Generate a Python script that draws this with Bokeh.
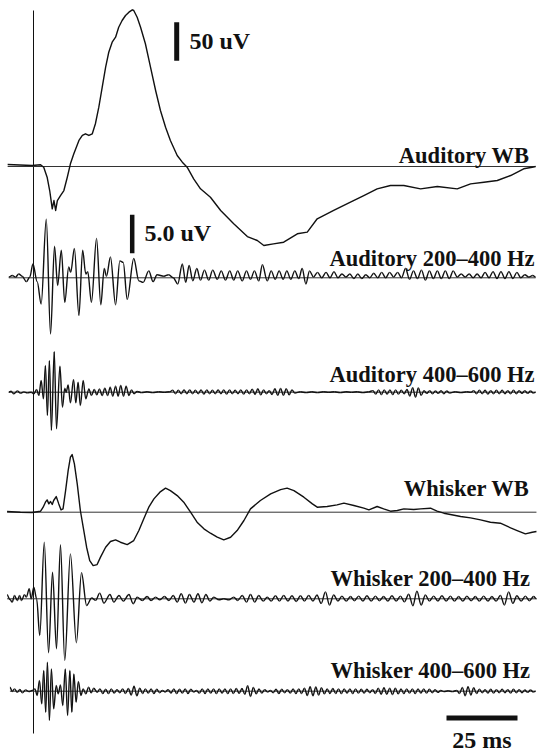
from bokeh.plotting import figure
from bokeh.models import Range1d, Label
from bokeh.embed import file_html
from bokeh.resources import INLINE

# ---- recorded traces: (time in ms, amplitude in uV) ----
AUD_WB = [(-9.1, 2.6), (-0.5, 1.3), (2.5, 2.2), (3.6, -0.9), (4.8, -13.9), (5.7, -31.2), (6.2, -44.2),
          (6.6, -55.0), (7.2, -44.2), (7.8, -57.1), (8.4, -44.2), (9.5, -37.7), (10.7, -31.2), (11.9, -13.9),
          (13.0, 3.5), (14.2, 16.5), (16.0, 33.8), (17.2, 40.3), (18.3, 42.5), (19.5, 40.3), (20.7, 42.5),
          (21.8, 55.5), (23.0, 77.0), (24.2, 103.0), (25.4, 129.0), (26.5, 148.4), (27.7, 161.4),
          (28.9, 167.9), (30.0, 180.9), (31.2, 189.6), (32.4, 196.1), (33.6, 200.4), (34.8, 203.5),
          (35.3, 202.6), (36.5, 193.9), (37.7, 180.9), (39.4, 159.4), (41.2, 129.0), (43.0, 98.7),
          (44.7, 72.7), (46.5, 51.0), (48.2, 33.8), (50.6, 14.3), (52.4, 5.6), (54.1, -0.9), (56.4, -16.0),
          (58.8, -29.0), (62.3, -39.9), (65.9, -57.1), (70.5, -74.4), (75.3, -91.0), (78.8, -96.1),
          (81.1, -102.6), (84.5, -100.5), (88.1, -98.3), (92.9, -87.4), (96.4, -85.3), (99.9, -67.9),
          (105.7, -57.1), (111.6, -46.4), (116.3, -37.7), (121.0, -29.0), (125.7, -24.7), (130.4, -24.7),
          (136.3, -29.0), (142.2, -26.0), (149.2, -29.0), (153.9, -22.5), (158.6, -20.4), (163.3, -18.2),
          (168.0, -11.7), (172.6, -3.0), (175.6, -0.9), (176.8, 0.0)]

AUD_200_400 = [(-8.7, 0.1), (-7.5, 0.3), (-6.3, 0.1), (-5.2, 0.5), (-4.0, 0.2), (-2.5, -0.5), (-1.3, 0.1),
               (-0.2, 1.8), (1.3, -0.5), (2.7, -3.4), (4.5, 7.6), (6.0, -7.3), (7.4, 4.1), (8.5, -1.0),
               (9.8, 3.6), (11.0, -3.2), (12.4, 1.4), (13.1, 0.7), (14.4, 3.8), (16.0, -4.9), (17.3, 3.6),
               (18.4, 0.5), (19.1, 0.8), (20.4, -3.2), (22.2, 5.1), (23.7, -3.5), (24.9, 1.2), (25.7, 0.2),
               (27.1, 2.7), (28.9, -3.5), (30.4, 2.2), (31.6, 2.0), (33.0, -2.8), (35.3, 2.5), (37.1, -0.4),
               (38.6, -0.6), (40.6, 0.9), (42.1, -0.5), (43.5, 0.4), (45.9, 0.2), (47.6, 0.4), (49.2, 0.0),
               (50.8, -0.8), (52.4, 1.8), (53.6, -0.6), (54.8, 1.6), (56.1, -0.4), (57.5, 1.2), (58.8, -0.3),
               (60.2, 1.0), (61.7, -0.3), (63.1, 1.0), (64.7, -0.2), (66.1, 0.9), (67.6, -0.3), (69.1, 0.9),
               (70.5, -0.3), (71.9, 0.9), (73.5, -0.4), (75.0, 0.9), (76.4, -0.2), (77.8, 0.9), (79.3, -0.4),
               (80.6, 1.7), (82.3, -0.4), (83.7, 0.9), (85.1, -0.2), (86.5, 0.9), (87.9, -0.2), (89.2, 0.9),
               (90.6, -0.2), (92.0, 0.9), (93.4, -0.1), (94.6, 1.2), (95.9, -0.8), (97.2, 0.9), (98.6, 0.1),
               (100.0, 0.7), (101.5, 0.0), (103.0, 0.7), (104.4, 0.0), (105.8, 0.8), (107.2, 0.0), (108.6, 0.5),
               (110.0, 0.1), (111.4, 0.5), (112.8, -0.1), (114.2, 0.5), (115.6, -0.1), (117.0, 0.4), (118.4, 0.0),
               (119.8, 0.6), (121.2, 0.0), (122.6, 0.7), (124.0, 0.0), (125.4, 0.7), (126.8, 0.1), (128.2, 0.7),
               (129.6, 0.0), (131.0, 1.2), (132.4, -0.2), (133.8, 0.9), (135.2, -0.1), (136.6, 1.0), (138.0, -0.3),
               (139.4, 0.9), (140.8, -0.1), (142.2, 0.9), (143.6, -0.1), (145.0, 0.9), (146.4, -0.1), (147.8, 0.9),
               (149.2, 0.1), (150.6, 0.5), (152.0, 0.1), (153.4, 0.5), (154.8, 0.0), (156.2, 0.5), (157.6, 0.0),
               (159.0, 0.7), (160.4, 0.0), (161.8, 0.8), (163.2, -0.1), (164.6, 0.8), (166.0, -0.1), (167.4, 0.8),
               (168.8, -0.1), (170.2, 0.7), (171.6, 0.0), (173.0, 0.4), (174.4, 0.1), (175.8, 0.3), (176.8, 0.1)]

AUD_400_600 = [(-8.7, 0.0), (-7.9, 0.13), (-6.9, -0.22), (-5.7, 0.17), (-4.6, -0.13), (-3.4, 0.04), (-2.2, -0.09),
               (-0.8, 0.0), (0.1, -0.22), (1.1, 0.35), (1.9, -0.43), (2.7, 1.52), (3.5, -0.87), (4.2, 3.46),
               (4.9, -3.03), (5.6, 4.11), (6.3, -4.98), (7.3, 5.28), (8.1, -4.76), (9.3, 3.38), (10.2, -1.95),
               (11.0, 0.52), (11.5, 0.0), (12.2, 0.95), (13.0, -1.39), (14.1, 1.65), (14.9, -1.39), (15.7, 1.30),
               (16.5, -1.73), (17.5, 1.52), (18.4, -0.87), (19.5, 0.43), (20.4, -0.43), (21.4, 0.35), (22.3, -0.35),
               (23.2, 0.43), (24.2, -0.43), (25.1, 0.52), (26.1, -0.43), (27.0, 0.65), (27.9, -0.52), (28.9, 0.78),
               (29.8, -0.52), (30.7, 0.87), (31.7, -0.52), (32.6, 0.78), (33.6, -0.43), (34.5, 0.3), (35.4, -0.2),
               (36.5, 0.1), (38.0, -0.05), (40.0, 0.05), (42.0, -0.05), (44.0, 0.05), (46.0, 0.0), (48.0, 0.05),
               (49.0, 0.25), (50.0, -0.2), (51.0, 0.25), (52.0, -0.2), (53.0, 0.3), (54.0, -0.2), (55.0, 0.3),
               (56.0, -0.2), (57.0, 0.25), (58.0, -0.2), (59.0, 0.3), (60.0, -0.25), (61.0, 0.3), (62.0, -0.2),
               (63.0, 0.25), (64.0, -0.2), (65.0, 0.3), (66.0, -0.2), (67.0, 0.3), (68.0, -0.25), (69.0, 0.3),
               (70.0, -0.2), (71.0, 0.25), (72.0, -0.2), (73.0, 0.3), (74.0, -0.25), (75.0, 0.3), (76.0, -0.2),
               (77.0, 0.4), (78.0, -0.3), (79.0, 0.45), (80.0, -0.35), (81.0, 0.3), (82.0, -0.2), (83.0, 0.2),
               (84.0, -0.3), (85.0, 0.45), (86.0, -0.4), (87.0, 0.5), (88.0, -0.4), (89.0, 0.45), (90.0, -0.35),
               (91.0, 0.3), (92.0, -0.1), (94.0, 0.05), (96.0, -0.05), (98.0, 0.05), (100.0, -0.05), (102.0, 0.05),
               (104.0, 0.0), (106.0, 0.05), (108.0, -0.05), (110.0, 0.05), (112.0, 0.0), (114.0, 0.05), (116.0, -0.05),
               (118.0, 0.05), (119.5, 0.2), (120.5, -0.25), (121.5, 0.3), (122.5, -0.3), (123.5, 0.3), (124.5, -0.25),
               (125.5, 0.3), (126.5, -0.3), (127.5, 0.3), (128.5, -0.25), (129.5, 0.25), (130.5, -0.2), (131.5, 0.35),
               (132.5, -0.5), (133.5, 0.6), (134.5, -0.65), (135.5, 0.55), (136.5, -0.4), (137.5, 0.2), (138.5, -0.15),
               (139.5, 0.2), (140.5, -0.2), (141.5, 0.15), (142.5, -0.15), (143.5, 0.2), (144.5, -0.2), (145.5, 0.15),
               (146.5, -0.1), (148.5, 0.05), (150.5, -0.05), (152.5, 0.05), (154.0, 0.0), (155.0, 0.2), (156.0, -0.2),
               (157.0, 0.25), (158.0, -0.2), (159.0, 0.25), (160.0, -0.25), (161.0, 0.2), (162.0, -0.2), (163.0, 0.25),
               (164.0, -0.2), (165.0, 0.25), (166.0, -0.2), (167.0, 0.2), (168.0, -0.2), (169.0, 0.25), (170.0, -0.2),
               (171.0, 0.2), (172.0, -0.15), (173.0, 0.2), (174.0, -0.15), (175.0, 0.15), (176.0, -0.1), (176.8, 0.0)]

WHISK_WB = [(-9.3, 0.9), (-4.6, 0.0), (-0.5, -0.4), (2.5, 1.3), (3.4, 6.5), (4.2, 13.0), (4.8, 16.0), (5.4, 10.8),
            (6.0, 13.9), (6.6, 10.0), (7.1, 15.2), (8.0, 20.3), (8.9, 10.8), (9.7, 3.0), (10.4, 4.3), (11.3, 28.1),
            (12.2, 54.1), (13.0, 71.4), (13.6, 74.9), (14.4, 62.8), (15.4, 36.8), (16.5, 2.2), (17.5, -19.5),
            (18.7, -45.5), (19.8, -62.8), (21.0, -69.3), (22.4, -68.0), (23.6, -58.4), (25.4, -45.5), (27.1, -38.1),
            (28.9, -35.9), (30.6, -39.0), (33.0, -42.0), (35.3, -36.8), (37.1, -23.8), (38.8, -8.7), (40.6, 6.5),
            (42.4, 17.3), (44.5, 26.0), (46.5, 31.2), (48.2, 28.1), (50.6, 21.6), (52.9, 13.0), (55.3, 0.0),
            (57.6, -13.0), (60.0, -21.6), (62.3, -27.3), (64.7, -32.5), (67.0, -35.9), (69.4, -32.5), (71.7, -23.8),
            (74.1, -10.8), (76.4, 4.3), (79.9, 15.2), (83.5, 23.8), (87.0, 29.4), (89.3, 31.2), (91.7, 28.1),
            (95.2, 19.5), (98.2, 10.8), (99.9, 6.5), (103.4, 7.4), (106.9, 9.5), (109.3, 11.7), (112.8, 8.7),
            (116.3, 5.2), (118.1, 3.0), (121.0, 7.4), (123.3, 4.3), (125.7, 1.3), (128.1, 2.2), (130.4, 4.3),
            (133.9, 3.5), (136.3, 4.3), (139.8, 5.2), (142.1, 1.3), (144.5, -1.3), (146.8, -3.0), (150.4, -5.6),
            (153.9, -7.4), (157.4, -10.0), (160.9, -13.0), (164.4, -14.3), (168.0, -20.3), (170.3, -23.8),
            (173.2, -28.1), (175.6, -26.0), (177.1, -25.1)]

WHISK_200_400 = [(-9.3, 0.52), (-8.3, -0.09), (-7.5, -0.43), (-6.7, 0.43), (-5.7, -0.22), (-4.9, 0.43), (-4.2, -0.22),
                 (-3.2, 0.52), (-2.5, 0.22), (-1.5, 1.30), (-0.8, 0.0), (0.1, 1.52), (1.1, 0.0), (2.2, -4.76),
                 (3.8, 7.36), (5.3, -7.01), (6.7, 3.46), (8.1, -6.49), (9.5, 7.01), (11.0, -8.01), (13.0, 5.84),
                 (15.1, -5.71), (16.9, 3.38), (18.7, -0.87), (20.5, 0.1), (21.9, -0.2), (23.3, 0.74), (24.8, -0.56),
                 (26.9, 0.56), (28.3, -0.43), (30.1, 0.43), (31.6, -0.3), (33.6, 0.56), (35.1, -0.65), (36.5, 0.22),
                 (38.3, -0.22), (40.0, 0.3), (41.4, -0.22), (43.0, 0.22), (44.5, -0.13), (46.1, 0.3), (47.7, -0.22),
                 (49.2, 0.43), (50.6, -0.43), (52.0, 0.65), (53.5, -0.56), (54.9, 0.56), (56.5, -0.43), (57.9, 0.65),
                 (59.3, -0.52), (60.7, 0.56), (62.1, -0.3), (63.5, 0.22), (65.3, -0.13), (67.0, 0.0), (68.8, -0.13),
                 (70.5, 0.22), (71.9, -0.22), (73.5, 0.43), (75.0, -0.43), (76.4, 0.56), (77.9, -0.43), (79.3, 0.43),
                 (80.9, -0.3), (82.3, 0.22), (83.7, -0.3), (85.2, 0.4), (86.6, -0.3), (88.1, 0.45), (89.6, -0.3),
                 (91.0, 0.4), (92.5, -0.35), (94.0, 0.4), (95.4, -0.3), (96.9, 0.45), (98.4, -0.3), (99.8, 0.5),
                 (101.3, -0.6), (102.8, 0.9), (104.2, -0.8), (105.7, 0.5), (107.2, -0.3), (108.6, 0.35), (110.1, -0.3),
                 (111.6, 0.3), (113.0, -0.25), (114.5, 0.35), (116.0, -0.3), (117.4, 0.4), (118.9, -0.3), (120.4, 0.35),
                 (121.8, -0.25), (123.3, 0.3), (124.8, -0.3), (126.2, 0.4), (127.7, -0.3), (129.2, 0.35), (130.6, -0.4),
                 (132.1, 0.6), (133.6, -0.9), (135.0, 1.0), (136.5, -0.8), (138.0, 0.5), (139.4, -0.3), (140.9, 0.35),
                 (142.4, -0.3), (143.8, 0.4), (145.3, -0.3), (146.8, 0.35), (148.2, -0.3), (149.7, 0.3), (151.2, -0.3),
                 (152.6, 0.35), (154.1, -0.25), (155.6, 0.3), (157.0, -0.3), (158.5, 0.35), (160.0, -0.3), (161.4, 0.3),
                 (162.9, -0.3), (164.4, 0.45), (165.8, -0.8), (167.3, 0.9), (168.8, -0.6), (170.2, 0.4), (171.7, -0.3),
                 (173.2, 0.35), (174.6, -0.25), (176.1, 0.3), (177.1, 0.0)]

WHISK_400_600 = [(-8.3, 0.52), (-7.5, -0.04), (-6.7, 0.3), (-5.7, -0.13), (-4.8, 0.22), (-3.9, -0.22), (-2.8, 0.17),
                 (-1.6, -0.04), (-0.5, 0.09), (0.5, 0.3), (1.3, -0.56), (2.1, 1.39), (2.9, -1.65), (3.6, 2.68),
                 (4.3, -2.73), (4.9, 3.77), (5.6, -3.81), (6.3, 2.9), (7.1, -2.29), (8.0, 0.74), (8.7, -0.35),
                 (9.5, 0.82), (10.3, -1.86), (11.2, 2.9), (12.0, -3.16), (12.8, 2.68), (13.5, -2.73), (14.2, 2.25),
                 (15.0, -1.43), (15.8, 1.26), (16.7, -0.56), (17.5, 0.3), (18.4, -0.35), (19.4, 0.52), (20.3, -0.22),
                 (21.2, 0.39), (22.4, -0.13), (23.4, 0.3), (24.4, -0.3), (25.4, 0.25), (26.4, -0.3), (27.4, 0.3),
                 (28.4, -0.25), (29.4, 0.2), (30.4, -0.2), (31.4, 0.3), (32.4, -0.3), (33.4, 0.35), (34.4, -0.5),
                 (35.4, 0.65), (36.4, -0.6), (37.4, 0.4), (38.4, -0.3), (39.4, 0.3), (40.4, -0.25), (41.4, 0.3),
                 (42.4, -0.3), (43.4, 0.25), (44.4, -0.2), (45.4, 0.1), (46.4, -0.1), (47.4, 0.2), (48.4, -0.25),
                 (49.4, 0.3), (50.4, -0.3), (51.4, 0.25), (52.4, -0.25), (53.4, 0.3), (54.4, -0.3), (55.4, 0.25),
                 (56.4, -0.1), (57.4, 0.1), (58.4, -0.25), (59.4, 0.3), (60.4, -0.3), (61.4, 0.3), (62.4, -0.25),
                 (63.4, 0.3), (64.4, -0.3), (65.4, 0.3), (66.4, -0.25), (67.4, 0.3), (68.4, -0.3), (69.4, 0.3),
                 (70.4, -0.3), (71.4, 0.35), (72.4, -0.3), (73.4, 0.35), (74.4, -0.4), (75.4, 0.7), (76.4, -0.7),
                 (77.4, 0.5), (78.4, -0.35), (79.4, 0.3), (80.4, -0.25), (81.4, 0.2), (82.4, -0.1), (83.4, 0.1),
                 (84.4, -0.2), (85.4, 0.25), (86.4, -0.3), (87.4, 0.25), (88.4, -0.2), (89.4, 0.2), (90.4, -0.25),
                 (91.4, 0.3), (92.4, -0.3), (93.4, 0.3), (94.4, -0.3), (95.4, 0.4), (96.4, -0.55), (97.4, 0.6),
                 (98.4, -0.6), (99.4, 0.55), (100.4, -0.5), (101.4, 0.45), (102.4, -0.35), (103.4, 0.3), (104.4, -0.3),
                 (105.4, 0.35), (106.4, -0.3), (107.4, 0.3), (108.4, -0.3), (109.4, 0.3), (110.4, -0.25), (111.4, 0.3),
                 (112.4, -0.3), (113.4, 0.3), (114.4, -0.25), (115.4, 0.25), (116.4, -0.25), (117.4, 0.25),
                 (118.4, -0.2), (119.4, 0.2), (120.4, -0.3), (121.4, 0.4), (122.4, -0.4), (123.4, 0.45), (124.4, -0.4),
                 (125.4, 0.4), (126.4, -0.45), (127.4, 0.4), (128.4, -0.35), (129.4, 0.3), (130.4, -0.3), (131.4, 0.3),
                 (132.4, -0.25), (133.4, 0.3), (134.4, -0.3), (135.4, 0.3), (136.4, -0.25), (137.4, 0.3), (138.4, -0.25),
                 (139.4, 0.25), (140.4, -0.2), (141.4, 0.2), (142.4, -0.15), (143.4, 0.1), (144.5, -0.05), (146.0, 0.05),
                 (147.5, -0.05), (149.0, 0.1), (150.0, -0.3), (151.0, 0.5), (152.0, -0.6), (153.0, 0.6), (154.0, -0.5),
                 (155.0, 0.45), (156.0, -0.3), (157.0, 0.25), (158.0, -0.2), (159.0, 0.2), (160.0, -0.25), (161.0, 0.25),
                 (162.0, -0.25), (163.0, 0.2), (164.0, -0.2), (165.0, 0.25), (166.0, -0.2), (167.0, 0.2), (168.0, -0.25),
                 (169.0, 0.25), (170.0, -0.2), (171.0, 0.2), (172.0, -0.2), (173.0, 0.15), (174.0, -0.15), (175.0, 0.15),
                 (176.0, -0.1), (176.8, 0.0)]

TRACE_LABELS = ["Auditory WB", "Auditory 200\u2013400 Hz", "Auditory 400\u2013600 Hz",
                "Whisker WB", "Whisker 200\u2013400 Hz", "Whisker 400\u2013600 Hz"]

# scale bars
SCALE_WB_UV = 50
SCALE_FILT_UV = 5.0
SCALE_MS = 25

# ---- layout ----
W, H = 539, 751
PX_PER_MS = 2.84
PX_PER_UNIT = 0.77            # vertical pixels per uV on wide-band traces
FILT_GAIN = 10                # band-passed traces are drawn at 10x
T_LEFT = -33 / PX_PER_MS
TEXT_LIFT = 8                 # label baseline correction, px


def ypx(py):
    """vertical screen position (from top) -> plot units"""
    return -py / PX_PER_UNIT


# (samples, baseline px from top, gain, smooth?, label right edge, label baseline)
traces = [
    (AUD_WB, 166.0, 1, False, 529, 163),
    (AUD_200_400, 277.3, FILT_GAIN, True, 534, 266),
    (AUD_400_600, 391.7, FILT_GAIN, True, 534, 382),
    (WHISK_WB, 511.7, 1, False, 529, 496),
    (WHISK_200_400, 598.3, FILT_GAIN, True, 530, 586),
    (WHISK_400_600, 690.7, FILT_GAIN, True, 530, 678),
]

p = figure(width=W, height=H, output_backend="svg", toolbar_location=None,
           x_range=Range1d(T_LEFT, T_LEFT + W / PX_PER_MS),
           y_range=Range1d(-H / PX_PER_UNIT, 0),
           x_axis_type=None, y_axis_type=None, min_border=0)
p.xgrid.visible = False
p.ygrid.visible = False
p.outline_line_color = None
p.background_fill_color = "white"
p.border_fill_color = "white"

INK = "#111111"
FONT = "Liberation Serif"


def label(text, x, y, align, size):
    p.add_layout(Label(x=x, y=H - y + TEXT_LIFT, x_units="screen", y_units="screen", text=text,
                       text_align=align, text_baseline="alphabetic", text_font=FONT,
                       text_font_style="bold", text_font_size=size, text_color=INK))


# stimulus onset marker
p.segment(x0=[0], y0=[ypx(10)], x1=[0], y1=[ypx(733)], line_color=INK, line_width=1)

for (data, base_px, gain, smooth, lx, ly), name in zip(traces, TRACE_LABELS):
    off = ypx(base_px)
    t = [d[0] for d in data]
    v = [off + d[1] * gain for d in data]
    p.segment(x0=[t[0]], y0=[off], x1=[t[-1]], y1=[off], line_color="#333333", line_width=1)
    if smooth:
        # band-passed traces: extrema joined by smooth half-wave curves
        x0, y0, x1, y1 = t[:-1], v[:-1], t[1:], v[1:]
        cx0 = [a + (b - a) / 3 for a, b in zip(x0, x1)]
        cx1 = [b - (b - a) / 3 for a, b in zip(x0, x1)]
        p.bezier(x0=x0, y0=y0, x1=x1, y1=y1, cx0=cx0, cy0=y0, cx1=cx1, cy1=y1,
                 line_color=INK, line_width=1.4)
    else:
        p.line(t, v, line_color=INK, line_width=1.4, line_join="round")
    label(name, lx, ly, "right", "22.5px")

# amplitude scale bars
bar_wb_x = (176.2 - 33) / PX_PER_MS
bar_wb_top = ypx(21.7)
p.segment(x0=[bar_wb_x], y0=[bar_wb_top], x1=[bar_wb_x], y1=[bar_wb_top - SCALE_WB_UV],
          line_color=INK, line_width=5, line_cap="butt")
label(f"{SCALE_WB_UV} uV", 189, 48, "left", "24px")

bar_f_x = (131.7 - 33) / PX_PER_MS
bar_f_bot = ypx(252.7)
p.segment(x0=[bar_f_x], y0=[bar_f_bot], x1=[bar_f_x], y1=[bar_f_bot + SCALE_FILT_UV * FILT_GAIN],
          line_color=INK, line_width=4.5, line_cap="butt")
label(f"{SCALE_FILT_UV:.1f} uV", 144, 240, "left", "24px")

# time scale bar
bar_t0 = (446 - 33) / PX_PER_MS
bar_ty = ypx(717.5)
p.segment(x0=[bar_t0], y0=[bar_ty], x1=[bar_t0 + SCALE_MS], y1=[bar_ty],
          line_color=INK, line_width=5, line_cap="butt")
label(f"{SCALE_MS} ms", 481.5, 747, "center", "24px")

open("out.html", "w").write(file_html(p, INLINE))
